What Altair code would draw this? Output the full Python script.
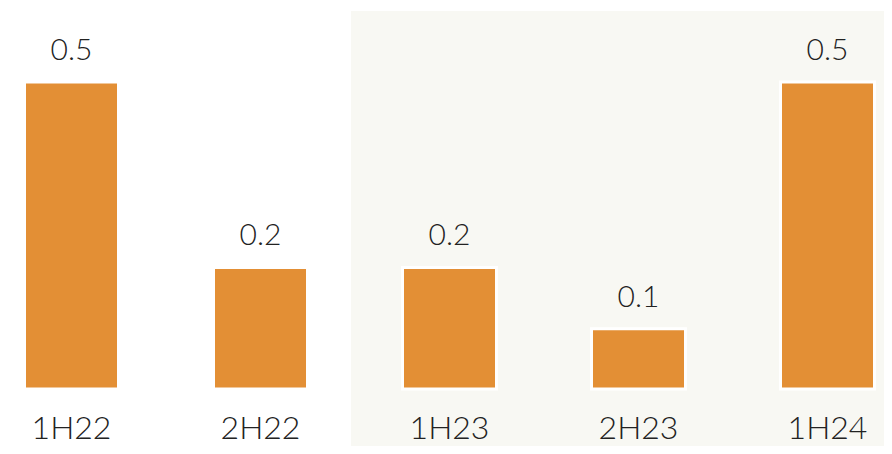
import altair as alt
import pandas as pd

periods = ["1H22", "2H22", "1H23", "2H23", "1H24"]
values = [0.5, 0.198, 0.198, 0.098, 0.5]

df = pd.DataFrame({"period": periods, "value": values})

FONT = "Lato"

x_enc = alt.X(
    "period:N",
    sort=periods,
    title=None,
    scale=alt.Scale(range=[16.5, 866.5], paddingInner=0.5026, paddingOuter=0),
    axis=alt.Axis(
        domain=False,
        ticks=False,
        tickSize=0,
        labelAngle=0,
        labelPadding=49,
        labelBaseline="alphabetic",
        labelFont=FONT,
        labelFontWeight=300,
        labelFontSize=32,
        labelColor="#222222",
        grid=False,
        zindex=1,
    ),
)
y_enc = alt.Y(
    "value:Q",
    title=None,
    scale=alt.Scale(domain=[0, 0.6205], nice=False, zero=True),
    axis=None,
)

bg = alt.Chart(pd.DataFrame({"a": [0]})).mark_rect(color="#f8f8f3").encode(
    x=alt.value(343), x2=alt.value(880), y=alt.value(3), y2=alt.value(440)
)

bars = alt.Chart(df).mark_bar(color="#e38f35", stroke="white", strokeWidth=3).encode(
    x=x_enc, y=y_enc
)

labels = alt.Chart(df).mark_text(
    font=FONT, fontWeight=300, fontSize=30, color="#222222", baseline="alphabetic", dy=-22
).encode(x=alt.X("period:N", sort=periods), y="value:Q", text=alt.Text("value:Q", format=".1f"))

chart = (
    alt.layer(bg, bars, labels)
    .properties(
        width=876,
        height=381,
        autosize=alt.AutoSizeParams(type="none"),
        padding={"left": 0, "top": 0, "right": 0, "bottom": 57},
    )
    .configure_view(stroke=None)
)

chart.save("out.html", embed_options={"renderer": "svg", "actions": False})
